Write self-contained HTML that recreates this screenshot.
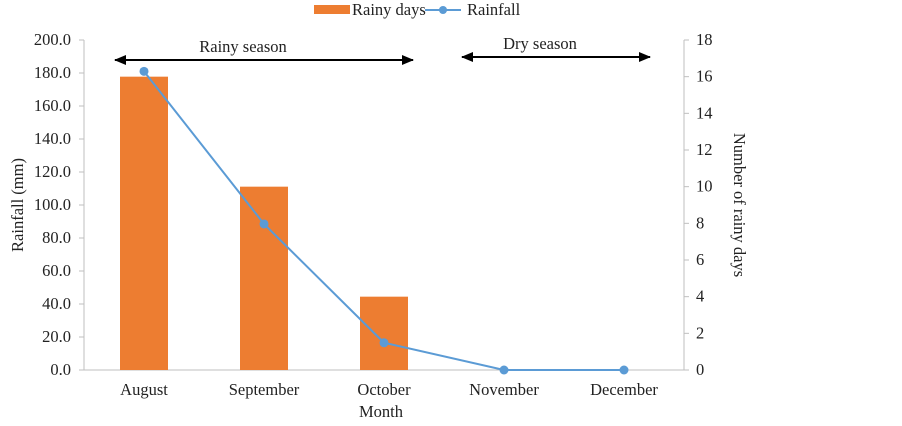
<!DOCTYPE html>
<html><head><meta charset="utf-8"><style>
body{margin:0;background:#fff;}
svg text{font-family:"Liberation Serif",serif;fill:#222;}
</style></head><body>
<svg width="902" height="421" viewBox="0 0 902 421">
<defs>
<marker id="ah" markerWidth="12" markerHeight="10" refX="11" refY="5" orient="auto-start-reverse" markerUnits="userSpaceOnUse"><path d="M0,0 L12,5 L0,10 z" fill="#000"/></marker>
</defs>
<g id="legend">
<rect x="314" y="5" width="36" height="9" fill="#ed7d31"/>
<text x="352" y="15" font-size="16.5">Rainy days</text>
<line x1="425" y1="10" x2="461" y2="10" stroke="#5b9bd5" stroke-width="2"/>
<circle cx="443" cy="10" r="4" fill="#5b9bd5"/>
<text x="467" y="15" font-size="16.5">Rainfall</text>
</g>
<g id="axes"></g>
<g id="bars"></g>
<g id="line"></g>
<line x1="115" y1="60" x2="413" y2="60" stroke="#000" stroke-width="2" marker-start="url(#ah)" marker-end="url(#ah)"/>
<text x="243" y="52" font-size="16.5" text-anchor="middle">Rainy season</text>
<line x1="462" y1="57" x2="650" y2="57" stroke="#000" stroke-width="2" marker-start="url(#ah)" marker-end="url(#ah)"/>
<text x="540" y="49" font-size="16.5" text-anchor="middle">Dry season</text>
<text transform="translate(23,205) rotate(-90)" font-size="16.5" text-anchor="middle">Rainfall (mm)</text>
<text transform="translate(734,205) rotate(90)" font-size="16.5" text-anchor="middle">Number of rainy days</text>
<text x="381" y="417" font-size="16.5" text-anchor="middle">Month</text>
</svg>
<script>
const categories=["August","September","October","November","December"];
const rainyDays=[16,10,4,0,0];
const rainfall=[181,88.5,16.5,0,0];
const leftTicks=[0,20,40,60,80,100,120,140,160,180,200];
const rightTicks=[0,2,4,6,8,10,12,14,16,18];
const NS="http://www.w3.org/2000/svg";
const X0=84,X1=684,Y0=370,Y1=40;
const bw=(X1-X0)/categories.length;
const xc=i=>X0+bw*(i+0.5);
const yL=v=>Y0-(v/200)*(Y0-Y1);
const yR=v=>Y0-(v/18)*(Y0-Y1);
function mk(tag,attrs,parent,txt){const e=document.createElementNS(NS,tag);for(const k in attrs)e.setAttribute(k,attrs[k]);if(txt!=null)e.textContent=txt;document.getElementById(parent).appendChild(e);return e;}
let e;
e=mk("line",{x1:X0,y1:Y1,x2:X0,y2:Y0,stroke:"#bfbfbf"},"axes");


e=mk("line",{x1:X1,y1:Y1,x2:X1,y2:Y0,stroke:"#bfbfbf"},"axes");


e=mk("line",{x1:X0,y1:Y0,x2:X1,y2:Y0,stroke:"#bfbfbf"},"axes");


leftTicks.forEach(v=>{
 e=mk("line",{x1:X0-5,y1:yL(v),x2:X0,y2:yL(v),stroke:"#bfbfbf"},"axes");
 
 
 e=mk("text",{x:X0-13,y:yL(v)+5,"font-size":16.5,"text-anchor":"end"},"axes",v.toFixed(1));
 
 
});
rightTicks.forEach(v=>{
 e=mk("line",{x1:X1,y1:yR(v),x2:X1+5,y2:yR(v),stroke:"#bfbfbf"},"axes");
 
 
 e=mk("text",{x:X1+12,y:yR(v)+5,"font-size":16.5,"text-anchor":"start"},"axes",v);
 
 
});
categories.forEach((c,i)=>{
 e=mk("text",{x:xc(i),y:395,"font-size":16.5,"text-anchor":"middle"},"axes",c);
 
 
 if(rainyDays[i]>0){
  e=mk("rect",{x:xc(i)-24,y:yR(rainyDays[i]),width:48,height:Y0-yR(rainyDays[i]),fill:"#ed7d31"},"bars");
  
  
 }
});
e=mk("polyline",{points:rainfall.map((v,i)=>xc(i)+","+yL(v)).join(" "),fill:"none",stroke:"#5b9bd5","stroke-width":2},"line");


rainfall.forEach((v,i)=>{
 e=mk("circle",{cx:xc(i),cy:yL(v),r:4.5,fill:"#5b9bd5"},"line");
 
 
});
</script>
</body></html>
